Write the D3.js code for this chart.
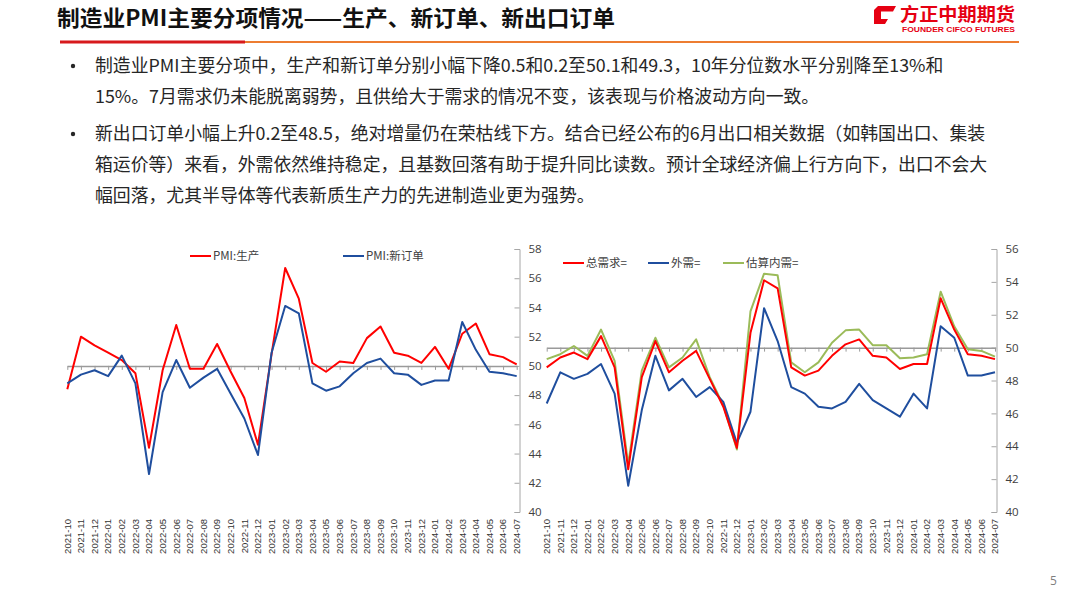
<!DOCTYPE html>
<html><head><meta charset="utf-8">
<script src="https://cdn.jsdelivr.net/npm/d3@7"></script>
<style>
body{margin:0;background:#fff;}
svg{display:block;font-family:"Noto Sans CJK SC","Noto Sans",sans-serif;}
</style></head>
<body>
<svg id="c" width="1080" height="608"></svg>
<script>
const months = ["2021-10","2021-11","2021-12","2022-01","2022-02","2022-03","2022-04","2022-05","2022-06","2022-07","2022-08","2022-09","2022-10","2022-11","2022-12","2023-01","2023-02","2023-03","2023-04","2023-05","2023-06","2023-07","2023-08","2023-09","2023-10","2023-11","2023-12","2024-01","2024-02","2024-03","2024-04","2024-05","2024-06","2024-07"];
const production = [48.4,52.0,51.4,50.9,50.4,49.5,44.4,49.7,52.8,49.8,49.8,51.5,49.6,47.8,44.6,50.8,56.7,54.6,50.2,49.6,50.3,50.2,51.9,52.7,50.9,50.7,50.2,51.3,49.8,52.2,52.9,50.8,50.6,50.1];
const newOrders = [48.8,49.4,49.7,49.3,50.7,48.8,42.6,48.2,50.4,48.5,49.2,49.8,48.1,46.4,43.9,50.9,54.1,53.6,48.8,48.3,48.6,49.5,50.2,50.5,49.5,49.4,48.7,49.0,49.0,53.0,51.1,49.6,49.5,49.3];
const exportOrders = [46.6,48.5,48.1,48.4,49.0,47.2,41.6,46.2,49.5,47.4,48.1,47.0,47.6,46.7,44.2,46.1,52.4,50.4,47.6,47.2,46.4,46.3,46.7,47.8,46.8,46.3,45.8,47.2,46.3,51.3,50.6,48.3,48.3,48.5];
const domesticEst = [49.3,49.6,50.1,49.5,51.1,49.2,42.9,48.6,50.6,48.8,49.4,50.5,48.2,46.5,43.8,52.2,54.5,54.4,49.1,48.5,49.1,50.3,51.05,51.1,50.15,50.15,49.35,49.4,49.6,53.4,51.3,49.9,49.8,49.45];
const leftTicks = [40,42,44,46,48,50,52,54,56,58];
const rightTicks = [40,42,44,46,48,50,52,54,56];
const titleText = "制造业PMI主要分项情况——生产、新订单、新出口订单";
const bulletLines = [
 "制造业PMI主要分项中，生产和新订单分别小幅下降0.5和0.2至50.1和49.3，10年分位数水平分别降至13%和",
 "15%。7月需求仍未能脱离弱势，且供给大于需求的情况不变，该表现与价格波动方向一致。",
 "新出口订单小幅上升0.2至48.5，绝对增量仍在荣枯线下方。结合已经公布的6月出口相关数据（如韩国出口、集装",
 "箱运价等）来看，外需依然维持稳定，且基数回落有助于提升同比读数。预计全球经济偏上行方向下，出口不会大",
 "幅回落，尤其半导体等代表新质生产力的先进制造业更为强势。"
];
const bulletStarts = [0,2];

const svg = d3.select("#c");
const RED="#FF0000", BLUE="#1F4E9E", GREEN="#9BBB59", AXIS="#A6A6A6";

// header
svg.append("text").attr("x",57).attr("y",26).attr("font-size",22).attr("font-weight","bold")
  .attr("fill","#111").attr("textLength",558).attr("lengthAdjust","spacingAndGlyphs").text(titleText);
svg.append("line").attr("x1",245).attr("x2",1019).attr("y1",42).attr("y2",42).attr("stroke","#ED7D31").attr("stroke-width",2);
svg.append("line").attr("x1",60).attr("x2",245).attr("y1",42).attr("y2",42).attr("stroke","#D7191C").attr("stroke-width",3);
// logo
svg.append("path").attr("d","M878,6 L896,6 L893,11.5 L881,11.5 L881,19 L888,19 L885,24 L874,24 L874,10 Z").attr("fill","#E60012");
svg.append("text").attr("x",900).attr("y",21).attr("font-size",18).attr("font-weight","bold").attr("fill","#E60012")
  .attr("textLength",115).attr("lengthAdjust","spacingAndGlyphs").text("方正中期期货");
svg.append("text").attr("x",902).attr("y",32).attr("font-size",8).attr("font-weight","bold").attr("fill","#E60012")
  .attr("font-family","Liberation Sans, Arial").attr("textLength",113).attr("lengthAdjust","spacingAndGlyphs").text("FOUNDER CIFCO FUTURES");

// bullets
const lineY=[72,103,140,171,202];
bulletLines.forEach((t,i)=>{
  svg.append("text").attr("x",95).attr("y",lineY[i]).attr("font-size",17.85).attr("fill","#262626").text(t);
  if(bulletStarts.includes(i)) svg.append("circle").attr("cx",73).attr("cy",lineY[i]-6).attr("r",2.2).attr("fill","#262626");
});

function chart(opts){
  const x = d3.scalePoint().domain(months).range(opts.xr);
  const y = d3.scaleLinear().domain(opts.yd).range([512,249]);
  const g = svg.append("g");
  const ya = g.append("g").attr("transform",`translate(${opts.ax},0)`)
    .call(d3.axisRight(y).tickValues(opts.ticks).tickSizeInner(-5).tickSizeOuter(-5).tickPadding(9));
  ya.select(".domain").attr("stroke",AXIS);
  ya.selectAll(".tick line").attr("stroke",AXIS);
  ya.selectAll("text").attr("font-size",11.5).attr("fill","#404040").attr("font-family","Open Sans, Noto Sans, sans-serif");
  const xa = g.append("g").attr("transform",`translate(0,${y(50)})`)
    .call(d3.axisBottom(x).tickSizeInner(4).tickSizeOuter(0).tickFormat(""));
  xa.select(".domain").attr("stroke","#9A9A9A").attr("stroke-width",1.5);
  xa.selectAll(".tick line").attr("stroke","#9A9A9A");
  g.append("g").selectAll("text").data(months).join("text")
    .attr("transform",d=>`translate(${x(d)},519) rotate(-90)`)
    .attr("text-anchor","end").attr("dy","0.35em").attr("font-size",9.5)
    .attr("font-family","Liberation Sans, Arial, sans-serif").attr("fill","#333").text(d=>d);
  const line = d3.line().x((d,i)=>x(months[i])).y(d=>y(d));
  opts.series.forEach(s=>{
    g.append("path").datum(s.values).attr("d",line).attr("fill","none").attr("stroke",s.color)
      .attr("stroke-width",2).attr("stroke-linejoin","round");
  });
  opts.series.forEach(s=>{
    g.append("line").attr("x1",s.lx).attr("x2",s.lx+21).attr("y1",opts.ly).attr("y2",opts.ly).attr("stroke",s.color).attr("stroke-width",2);
    g.append("text").attr("x",s.lx+23).attr("y",opts.ly).attr("dy","0.35em").attr("font-size",11.5).attr("fill","#404040").text(s.name);
  });
}
chart({xr:[67.3,516.7], yd:[40,58], ax:519.5, ticks:leftTicks, ly:256,
  series:[{name:"PMI:生产",values:production,color:RED,lx:190},{name:"PMI:新订单",values:newOrders,color:BLUE,lx:343}]});
chart({xr:[546.7,995], yd:[40,56], ax:996.5, ticks:rightTicks, ly:263,
  series:[{name:"估算内需=",values:domesticEst,color:GREEN,lx:723},{name:"外需=",values:exportOrders,color:BLUE,lx:648},{name:"总需求=",values:newOrders,color:RED,lx:563}]});

svg.append("text").attr("x",1050).attr("y",585).attr("font-size",12).attr("fill","#7F7F7F").attr("font-family","Open Sans, sans-serif").text("5");
</script>
</body></html>
